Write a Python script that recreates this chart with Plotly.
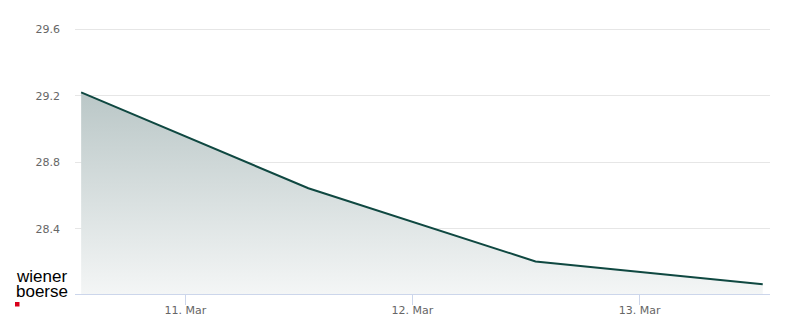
import plotly.graph_objects as go

dates = ["2025-03-10 13:00", "2025-03-11 13:00", "2025-03-12 13:00", "2025-03-13 13:00"]
prices = [29.222, 28.645, 28.205, 28.068]
y_ticks = [28.4, 28.8, 29.2, 29.6]

fig = go.Figure()
fig.add_trace(go.Scatter(
    x=dates, y=prices, mode="lines",
    line=dict(color="#0f4841", width=2),
    fill="tozeroy",
    fillgradient=dict(type="vertical", start=28.0, stop=29.22,
                      colorscale=[[0, "rgba(244,246,246,1)"], [1, "rgba(186,199,199,1)"]]),
    hoverinfo="x+y",
))

fig.update_layout(
    width=800, height=324,
    margin=dict(l=75, r=30, t=10, b=30),
    paper_bgcolor="white", plot_bgcolor="white",
    showlegend=False,
    font=dict(family="DejaVu Sans", size=11, color="#666666"),
    xaxis=dict(
        type="date",
        range=["2025-03-10 12:21", "2025-03-13 13:46"],
        tickformat="%d. %b", dtick=86400000, tick0="2025-03-11",
        showgrid=False, showline=True, linecolor="#ccd6eb", linewidth=1,
        ticks="outside", ticklen=10, tickcolor="#ccd6eb",
        ticklabelstandoff=-4,
        tickfont=dict(size=11, color="#666666"),
        zeroline=False, automargin=False,
    ),
    yaxis=dict(
        range=[28.009, 29.717],
        tickvals=y_ticks, ticktext=[f"{v:.1f}" for v in y_ticks],
        showgrid=True, gridcolor="#e6e6e6", gridwidth=1,
        zeroline=False, showline=False, ticks="",
        ticklabelstandoff=14, automargin=False,
        tickfont=dict(size=11, color="#666666"),
    ),
)

fig.add_annotation(text="wiener", xref="paper", yref="paper",
                   x=-0.088, y=(294 - 264.5) / 284, xanchor="left", yanchor="top",
                   showarrow=False, font=dict(family="Liberation Sans", size=17, color="#000000"))
fig.add_annotation(text="boerse", xref="paper", yref="paper",
                   x=-0.088, y=(294 - 279.5) / 284, xanchor="left", yanchor="top",
                   showarrow=False, font=dict(family="Liberation Sans", size=17, color="#000000"))
fig.add_shape(type="rect", xref="paper", yref="paper",
              x0=-60 / 695, x1=-55.5 / 695, y0=(294 - 306.5) / 284, y1=(294 - 302) / 284,
              fillcolor="#d9001b", line=dict(width=0))

fig.write_html("out.html")
